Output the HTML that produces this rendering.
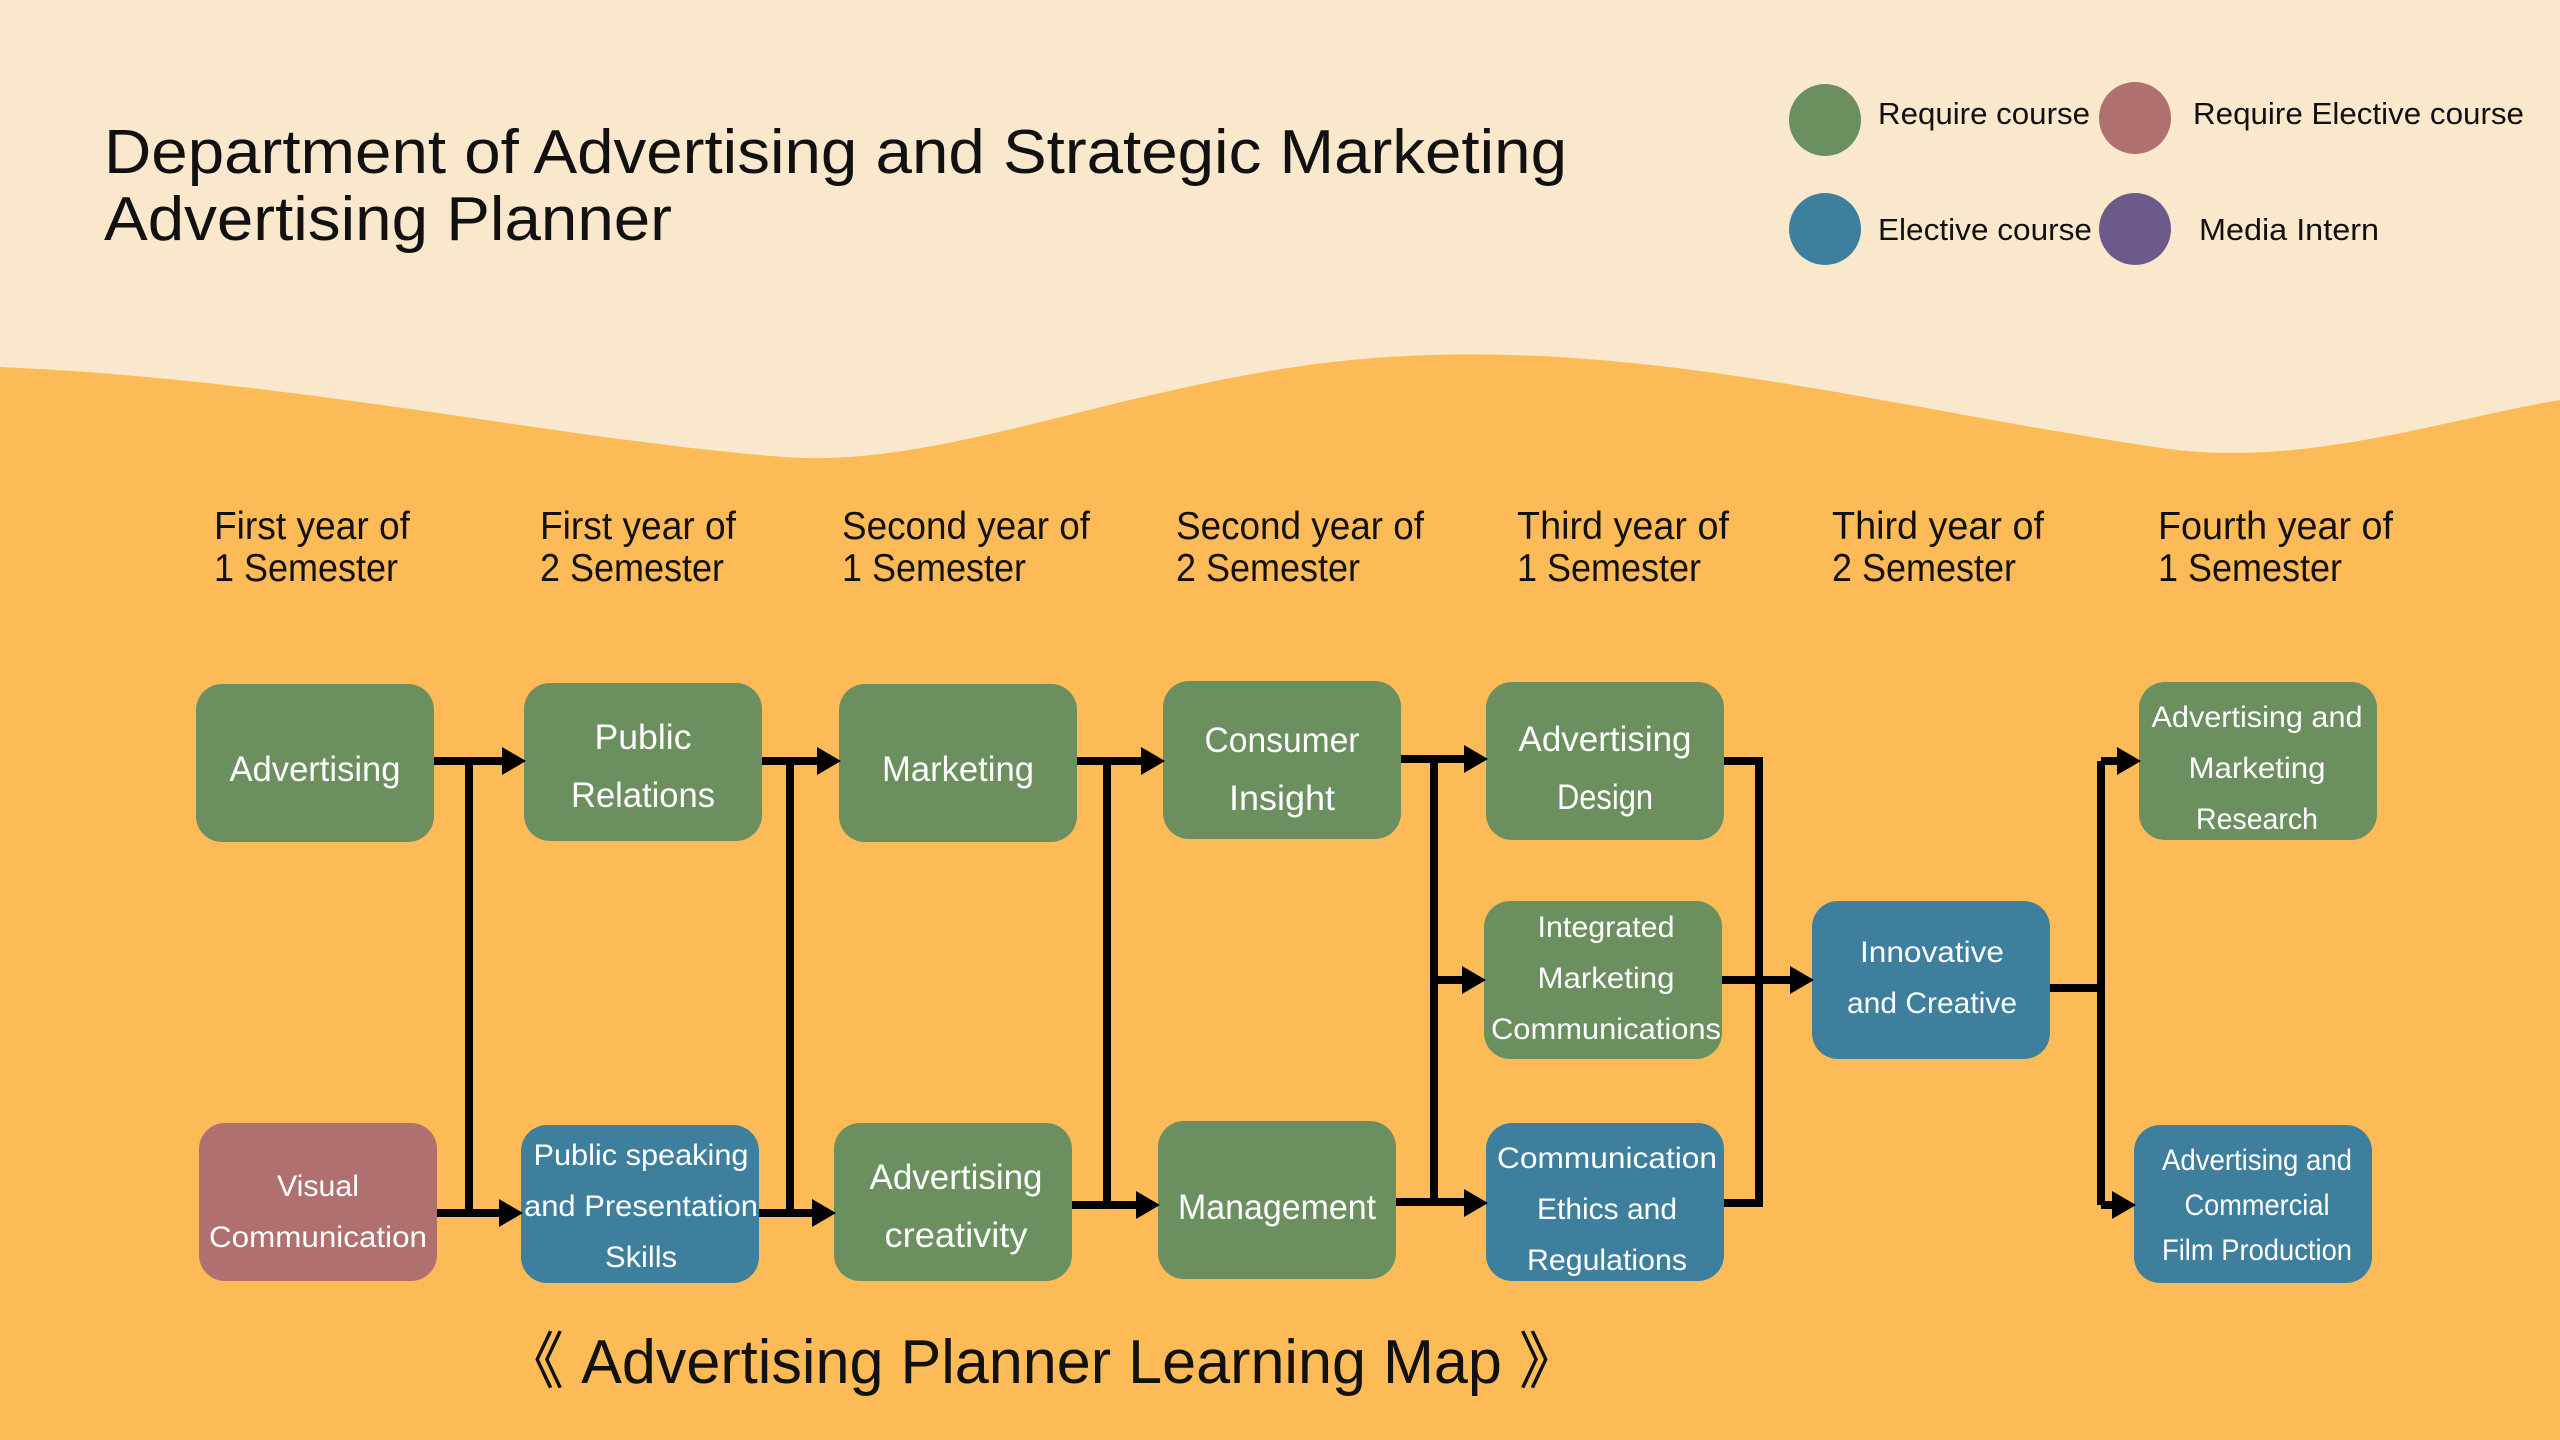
<!DOCTYPE html>
<html><head><meta charset="utf-8"><style>
html,body{margin:0;padding:0;background:#FDBB57;}
svg{display:block}
text{font-family:"Liberation Sans",sans-serif;}
.b{fill:#fff;font-size:35px;text-anchor:middle}
.s{fill:#fff;font-size:30px;text-anchor:middle}
.h{fill:#111;font-size:39px}
</style></head><body>
<svg width="2560" height="1440" viewBox="0 0 2560 1440" xmlns="http://www.w3.org/2000/svg">
<rect width="2560" height="1440" fill="#FDBB57"/>
<path d="M0 0 H2560 V400 C2440 420 2300 470 2155 447 C1900 410 1650 340 1388 357 C1150 372 950 470 784 457 C560 440 300 380 0 367 Z" fill="#FAE8CC"/>
<text x="104" y="173" font-size="62" fill="#111" textLength="1463" lengthAdjust="spacingAndGlyphs">Department of Advertising and Strategic Marketing</text>
<text x="104" y="240" font-size="62" fill="#111" textLength="568" lengthAdjust="spacingAndGlyphs">Advertising Planner</text>
<circle cx="1825" cy="120" r="36" fill="#6B8F5E"/>
<circle cx="2135" cy="118" r="36" fill="#B07070"/>
<circle cx="1825" cy="229" r="36" fill="#3F7F9E"/>
<circle cx="2135" cy="229" r="36" fill="#6C5A8A"/>
<text x="1878" y="124" font-size="31" fill="#111" textLength="212" lengthAdjust="spacingAndGlyphs">Require course</text>
<text x="2193" y="124" font-size="31" fill="#111" textLength="331" lengthAdjust="spacingAndGlyphs">Require Elective course</text>
<text x="1878" y="240" font-size="31" fill="#111" textLength="214" lengthAdjust="spacingAndGlyphs">Elective course</text>
<text x="2199" y="240" font-size="31" fill="#111" textLength="180" lengthAdjust="spacingAndGlyphs">Media Intern</text>

<g class="h">
<text x="214" y="539" class="h" textLength="196" lengthAdjust="spacingAndGlyphs">First year of</text>
<text x="214" y="581" class="h" textLength="184" lengthAdjust="spacingAndGlyphs">1 Semester</text>
<text x="540" y="539" class="h" textLength="196" lengthAdjust="spacingAndGlyphs">First year of</text>
<text x="540" y="581" class="h" textLength="184" lengthAdjust="spacingAndGlyphs">2 Semester</text>
<text x="842" y="539" class="h" textLength="248" lengthAdjust="spacingAndGlyphs">Second year of</text>
<text x="842" y="581" class="h" textLength="184" lengthAdjust="spacingAndGlyphs">1 Semester</text>
<text x="1176" y="539" class="h" textLength="248" lengthAdjust="spacingAndGlyphs">Second year of</text>
<text x="1176" y="581" class="h" textLength="184" lengthAdjust="spacingAndGlyphs">2 Semester</text>
<text x="1517" y="539" class="h" textLength="212" lengthAdjust="spacingAndGlyphs">Third year of</text>
<text x="1517" y="581" class="h" textLength="184" lengthAdjust="spacingAndGlyphs">1 Semester</text>
<text x="1832" y="539" class="h" textLength="212" lengthAdjust="spacingAndGlyphs">Third year of</text>
<text x="1832" y="581" class="h" textLength="184" lengthAdjust="spacingAndGlyphs">2 Semester</text>
<text x="2158" y="539" class="h" textLength="235" lengthAdjust="spacingAndGlyphs">Fourth year of</text>
<text x="2158" y="581" class="h" textLength="184" lengthAdjust="spacingAndGlyphs">1 Semester</text>
</g>

<!-- boxes -->
<g>
<rect x="196" y="684" width="238" height="158" rx="26" fill="#6B8F5E"/>
<rect x="524" y="683" width="238" height="158" rx="26" fill="#6B8F5E"/>
<rect x="839" y="684" width="238" height="158" rx="26" fill="#6B8F5E"/>
<rect x="1163" y="681" width="238" height="158" rx="26" fill="#6B8F5E"/>
<rect x="1486" y="682" width="238" height="158" rx="26" fill="#6B8F5E"/>
<rect x="1484" y="901" width="238" height="158" rx="26" fill="#6B8F5E"/>
<rect x="1812" y="901" width="238" height="158" rx="26" fill="#3F7F9E"/>
<rect x="2139" y="682" width="238" height="158" rx="26" fill="#6B8F5E"/>
<rect x="199" y="1123" width="238" height="158" rx="26" fill="#B07070"/>
<rect x="521" y="1125" width="238" height="158" rx="26" fill="#3F7F9E"/>
<rect x="834" y="1123" width="238" height="158" rx="26" fill="#6B8F5E"/>
<rect x="1158" y="1121" width="238" height="158" rx="26" fill="#6B8F5E"/>
<rect x="1486" y="1123" width="238" height="158" rx="26" fill="#3F7F9E"/>
<rect x="2134" y="1125" width="238" height="158" rx="26" fill="#3F7F9E"/>
</g>

<g>
<text class="b" x="315" y="781" textLength="171" lengthAdjust="spacingAndGlyphs">Advertising</text>
<text class="b" x="643" y="749" textLength="97" lengthAdjust="spacingAndGlyphs">Public</text>
<text class="b" x="643" y="807" textLength="144" lengthAdjust="spacingAndGlyphs">Relations</text>
<text class="b" x="958" y="781" textLength="152" lengthAdjust="spacingAndGlyphs">Marketing</text>
<text class="b" x="1282" y="752" textLength="155" lengthAdjust="spacingAndGlyphs">Consumer</text>
<text class="b" x="1282" y="810" textLength="106" lengthAdjust="spacingAndGlyphs">Insight</text>
<text class="b" x="1605" y="751" textLength="173" lengthAdjust="spacingAndGlyphs">Advertising</text>
<text class="b" x="1605" y="809" textLength="96" lengthAdjust="spacingAndGlyphs">Design</text>
<text class="s" x="1606" y="937" textLength="137" lengthAdjust="spacingAndGlyphs">Integrated</text>
<text class="s" x="1606" y="988" textLength="137" lengthAdjust="spacingAndGlyphs">Marketing</text>
<text class="s" x="1606" y="1039" textLength="230" lengthAdjust="spacingAndGlyphs">Communications</text>
<text class="s" x="1932" y="962" textLength="144" lengthAdjust="spacingAndGlyphs">Innovative</text>
<text class="s" x="1932" y="1013" textLength="170" lengthAdjust="spacingAndGlyphs">and Creative</text>
<text class="s" x="2257" y="727" textLength="211" lengthAdjust="spacingAndGlyphs">Advertising and</text>
<text class="s" x="2257" y="778" textLength="137" lengthAdjust="spacingAndGlyphs">Marketing</text>
<text class="s" x="2257" y="829" textLength="122" lengthAdjust="spacingAndGlyphs">Research</text>
<text class="s" x="318" y="1196" textLength="82" lengthAdjust="spacingAndGlyphs">Visual</text>
<text class="s" x="318" y="1247" textLength="218" lengthAdjust="spacingAndGlyphs">Communication</text>
<text class="s" x="641" y="1165" textLength="215" lengthAdjust="spacingAndGlyphs">Public speaking</text>
<text class="s" x="641" y="1216" textLength="234" lengthAdjust="spacingAndGlyphs">and Presentation</text>
<text class="s" x="641" y="1267" textLength="72" lengthAdjust="spacingAndGlyphs">Skills</text>
<text class="b" x="956" y="1189" textLength="173" lengthAdjust="spacingAndGlyphs">Advertising</text>
<text class="b" x="956" y="1247" textLength="143" lengthAdjust="spacingAndGlyphs">creativity</text>
<text class="b" x="1277" y="1219" textLength="198" lengthAdjust="spacingAndGlyphs">Management</text>
<text class="s" x="1607" y="1168" textLength="220" lengthAdjust="spacingAndGlyphs">Communication</text>
<text class="s" x="1607" y="1219" textLength="140" lengthAdjust="spacingAndGlyphs">Ethics and</text>
<text class="s" x="1607" y="1270" textLength="160" lengthAdjust="spacingAndGlyphs">Regulations</text>
<text class="s" x="2257" y="1170" textLength="190" lengthAdjust="spacingAndGlyphs">Advertising and</text>
<text class="s" x="2257" y="1215" textLength="145" lengthAdjust="spacingAndGlyphs">Commercial</text>
<text class="s" x="2257" y="1260" textLength="190" lengthAdjust="spacingAndGlyphs">Film Production</text>
</g>

<!-- connectors -->
<g stroke="#000" stroke-width="8" fill="none" stroke-linejoin="miter">
<path d="M434 761 H505 M469 761 V1213 M437 1213 H502"/>
<path d="M762 761 H820 M790 761 V1213 M759 1213 H815"/>
<path d="M1077 761 H1144 M1107 761 V1205 M1072 1205 H1139"/>
<path d="M1401 759 H1467 M1434 759 V1203 M1434 980 H1465 M1396 1202 H1467"/>
<path d="M1724 761 H1759 V1203 H1724 M1722 980 H1793"/>
<path d="M2050 988 H2101 M2101 761 V1205 M2101 761 H2120 M2101 1205 H2115"/>
</g>
<g fill="#000">
<polygon points="502,747 526,761 502,775"/>
<polygon points="499,1199 523,1213 499,1227"/>
<polygon points="817,747 841,761 817,775"/>
<polygon points="812,1199 836,1213 812,1227"/>
<polygon points="1141,747 1165,761 1141,775"/>
<polygon points="1136,1191 1160,1205 1136,1219"/>
<polygon points="1464,745 1488,759 1464,773"/>
<polygon points="1462,966 1486,980 1462,994"/>
<polygon points="1464,1189 1488,1203 1464,1217"/>
<polygon points="1790,966 1814,980 1790,994"/>
<polygon points="2117,747 2141,761 2117,775"/>
<polygon points="2112,1191 2136,1205 2112,1219"/>
</g>

<text x="503" y="1383" font-size="62" fill="#111" textLength="1077" lengthAdjust="spacingAndGlyphs">《 Advertising Planner Learning Map 》</text>
</svg>
</body></html>
